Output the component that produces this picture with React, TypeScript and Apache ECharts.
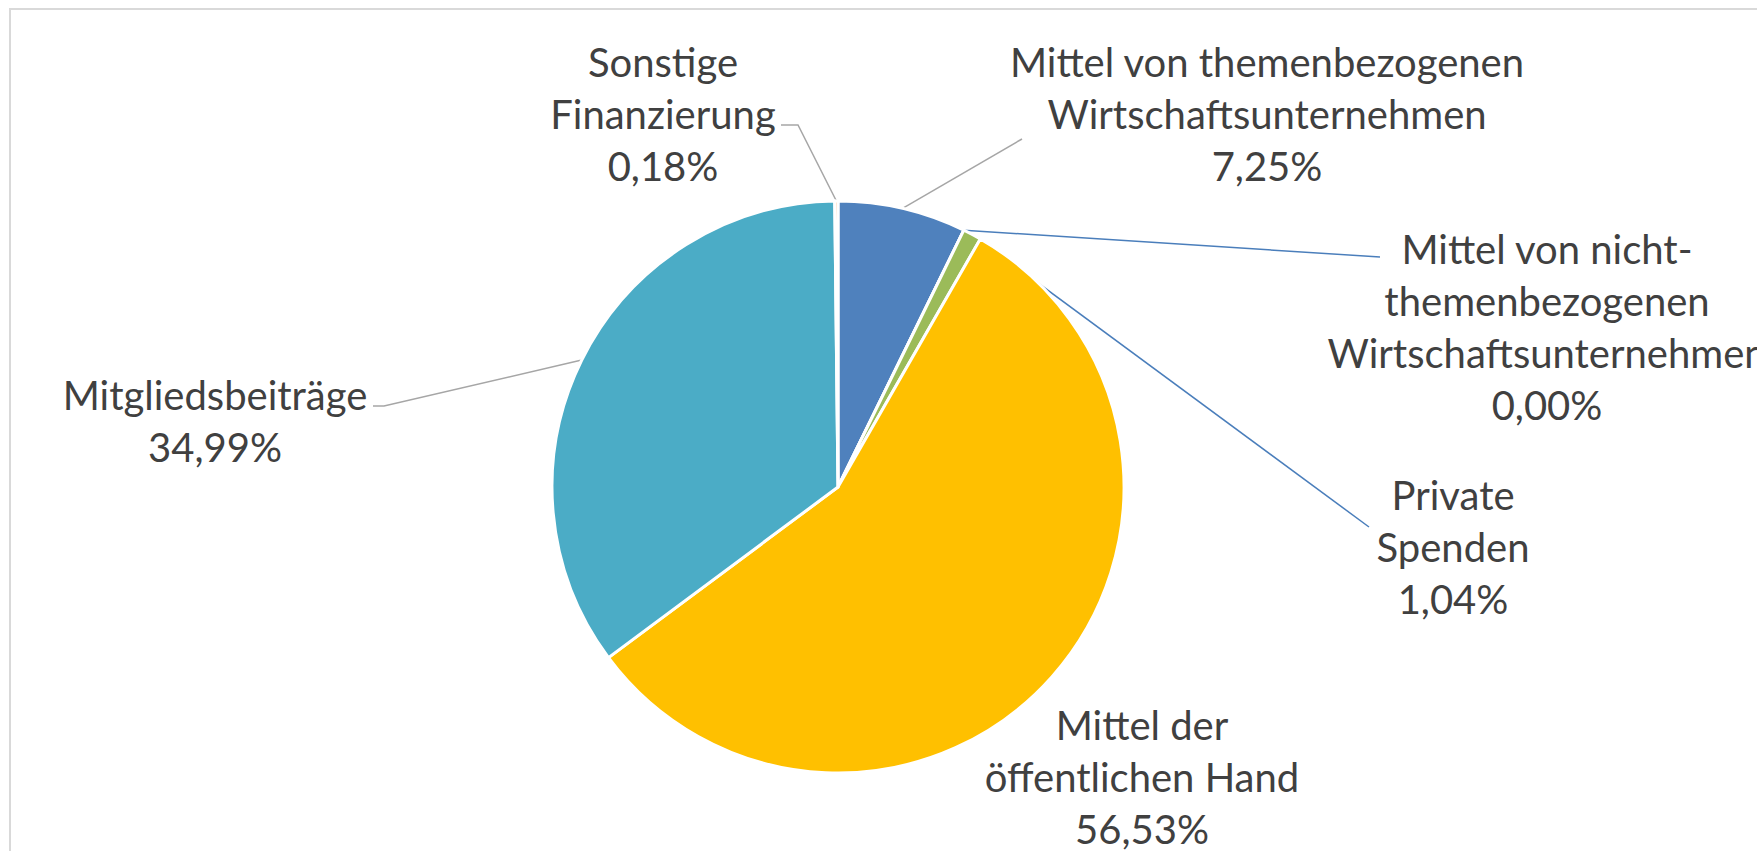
import React, { useEffect, useRef } from "react";
import * as echarts from "echarts";

// ---- data ----
const categories = [
  "Mittel von themenbezogenen Wirtschaftsunternehmen",
  "Mittel von nicht-themenbezogenen Wirtschaftsunternehmen",
  "Private Spenden",
  "Mittel der öffentlichen Hand",
  "Mitgliedsbeiträge",
  "Sonstige Finanzierung",
];
const shares = [7.25, 0.0, 1.04, 56.53, 34.99, 0.18];
const labelTexts = [
  "Mittel von themenbezogenen\nWirtschaftsunternehmen",
  "Mittel von nicht-\nthemenbezogenen\nWirtschaftsunternehmen",
  "Private\nSpenden",
  "Mittel der\nöffentlichen Hand",
  "Mitgliedsbeiträge",
  "Sonstige\nFinanzierung",
];

// ---- styles / layout ----
const sliceColors = ["#4F81BD", "#C0504D", "#9BBB59", "#FFC000", "#4BACC6", "#F79646"];
const lineColors = ["#A6A6A6", "#4A7EBB", "#4A7EBB", "#A6A6A6", "#A6A6A6", "#A6A6A6"];
const CX = 838;
const CY = 487;
const R = 286;
const labelCenters: [number, number][] = [
  [1267, 114],
  [1547, 327],
  [1453, 547],
  [1142, 777],
  [215, 421],
  [663, 114],
];
const lineBends: ([number, number][] | null)[] = [
  [[1022, 139]],
  [[1380, 257]],
  [[1369, 527]],
  null,
  [[384, 406], [373, 406]],
  [[798, 125], [781, 125]],
];

const fmt = (v: number) => v.toFixed(2).replace(".", ",") + "%";

export default function App() {
  const ref = useRef<HTMLDivElement>(null);
  useEffect(() => {
    if (!ref.current) return;
    const chart = echarts.init(ref.current, null, { renderer: "svg" });
    const total = shares.reduce((a, b) => a + b, 0);
    const edgePoint = (i: number): [number, number] => {
      let cum = 0;
      for (let k = 0; k < i; k++) cum += shares[k];
      const a = ((cum + shares[i] / 2) / total) * Math.PI * 2;
      return [CX + R * Math.sin(a), CY - R * Math.cos(a)];
    };
    chart.setOption({
      animation: false,
      backgroundColor: "#ffffff",
      graphic: [
        {
          type: "rect",
          shape: { x: 10, y: 9, width: 1800, height: 900 },
          style: { fill: "none", stroke: "#D9D9D9", lineWidth: 2 },
          silent: true,
        },
      ],
      series: [
        {
          type: "pie",
          center: [CX, CY],
          radius: [0, R],
          startAngle: 90,
          clockwise: true,
          avoidLabelOverlap: false,
          stillShowZeroSum: true,
          silent: true,
          itemStyle: { borderColor: "#ffffff", borderWidth: 3 },
          label: {
            show: true,
            position: "outside",
            color: "#404040",
            fontFamily: "Lato",
            fontSize: 40,
            lineHeight: 52,
            align: "center",
            formatter: (p: any) => labelTexts[p.dataIndex] + "\n" + fmt(p.value),
          },
          labelLine: { show: true, length: 10, length2: 10, smooth: false },
          labelLayout: (p: any) => {
            const i = p.dataIndex;
            const res: any = {
              x: labelCenters[i][0],
              y: labelCenters[i][1],
              align: "center",
              verticalAlign: "middle",
            };
            const bends = lineBends[i];
            if (bends) res.labelLinePoints = [edgePoint(i), ...bends];
            return res;
          },
          data: categories.map((name, i) => ({
            name,
            value: shares[i],
            itemStyle: { color: sliceColors[i] },
            labelLine: {
              show: lineBends[i] !== null,
              lineStyle: { color: lineColors[i], width: 1.5 },
            },
          })),
        },
      ],
    });
    return () => chart.dispose();
  }, []);
  return (
    <div
      ref={ref}
      style={{ position: "fixed", left: 0, top: 0, width: 1757, height: 851 }}
    />
  );
}
